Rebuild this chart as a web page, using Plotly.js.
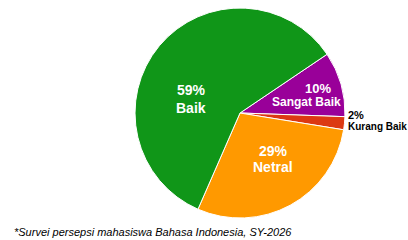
<!DOCTYPE html>
<html>
<head>
<meta charset="utf-8">
<script src="https://cdn.plot.ly/plotly-3.0.1.min.js"></script>
<style>html,body{margin:0;padding:0;background:#fff;}#chart{width:408px;height:240px;}</style>
</head>
<body>
<div id="chart"></div>
<script>
var labels = ["Sangat Baik", "Kurang Baik", "Netral", "Baik"];
var values = [10, 2, 29, 59];
var colors = ["#990099", "#dc3912", "#ff9900", "#109618"];
var footnote = "*Survei persepsi mahasiswa Bahasa Indonesia, SY-2026";

var total = values.reduce(function(a, b){ return a + b; }, 0);
function pct(v){ return Math.round(v / total * 100) + "%"; }

var trace = {
  type: "pie",
  labels: labels,
  values: values,
  sort: false,
  direction: "clockwise",
  rotation: 56,
  marker: {colors: colors, line: {color: "#ffffff", width: 1}},
  textinfo: "none",
  hoverinfo: "none",
  showlegend: false,
  domain: {x: [135/408, 345/408], y: [22/240, 232/240]}
};

// label placement (pixel centres / anchors) for each slice
var labelPos = {
  "Sangat Baik": {px: 318, py: 88, lx: 306, ly: 102, anchor: "center", color: "#ffffff", ps: 13, ls: 12},
  "Kurang Baik": {px: 346, py: 115, lx: 346, ly: 126, anchor: "left", color: "#000000", ps: 11, ls: 10},
  "Netral": {px: 273, py: 151, lx: 273, ly: 167, anchor: "center", color: "#ffffff", ps: 14, ls: 14},
  "Baik": {px: 191, py: 90, lx: 191, ly: 108, anchor: "center", color: "#ffffff", ps: 14, ls: 14}
};

var annotations = [];
labels.forEach(function(lab, i){
  var p = labelPos[lab];
  annotations.push({
    text: "<b>" + pct(values[i]) + "</b>", xref: "paper", yref: "paper",
    x: p.px / 408, y: 1 - p.py / 240, xanchor: p.anchor, yanchor: "middle",
    showarrow: false,
    font: {family: "Liberation Sans, Arial, sans-serif", size: p.ps, color: p.color}
  });
  annotations.push({
    text: "<b>" + lab + "</b>", xref: "paper", yref: "paper",
    x: p.lx / 408, y: 1 - p.ly / 240, xanchor: p.anchor, yanchor: "middle",
    showarrow: false,
    font: {family: "Liberation Sans, Arial, sans-serif", size: p.ls, color: p.color}
  });
});

annotations.push({
  text: "<i>" + footnote + "</i>",
  xref: "paper", yref: "paper", x: 12/408, y: 1 - 232/240,
  xanchor: "left", yanchor: "middle", showarrow: false,
  font: {family: "Liberation Sans, Arial, sans-serif", size: 11, color: "#000000"}
});

var layout = {
  width: 408, height: 240,
  margin: {l: 0, r: 0, t: 0, b: 0},
  paper_bgcolor: "#ffffff",
  showlegend: false,
  annotations: annotations
};

Plotly.newPlot("chart", [trace], layout, {staticPlot: true, displayModeBar: false});
</script>
</body>
</html>
